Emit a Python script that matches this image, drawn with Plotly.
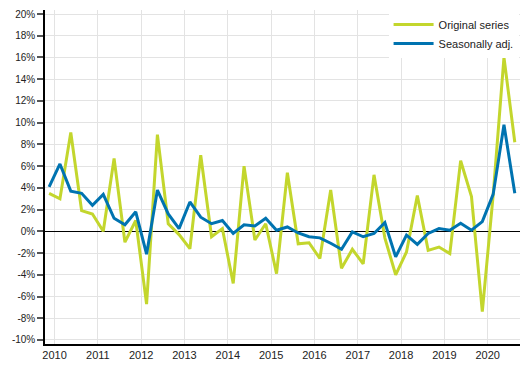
import plotly.graph_objects as go

# Quarters from 2009Q4 to 2020Q3 (positioned mid-quarter)
years = [2009] + [y for y in range(2010, 2020) for _ in range(4)] + [2020, 2020, 2020]
quarters = [4] + [q for _ in range(2010, 2020) for q in range(1, 5)] + [1, 2, 3]

original = [3.5, 3.0, 9.1, 1.9, 1.6, 0.0, 6.7, -1.0, 1.0, -6.7, 8.9,
            0.7, -0.3, -1.6, 7.0, -0.5, 0.25, -4.8, 6.0, -0.8, 0.7, -3.9,
            5.4, -1.15, -1.05, -2.5, 3.8, -3.4, -1.65, -3.0, 5.2, -0.6,
            -4.0, -1.9, 3.3, -1.75, -1.45, -2.05, 6.5, 3.2, -7.4, 3.3,
            16.0, 8.2]
seasonal = [4.1, 6.2, 3.7, 3.5, 2.4, 3.4, 1.2, 0.6, 1.8, -2.1, 3.8,
            1.6, 0.25, 2.7, 1.3, 0.7, 1.0, -0.2, 0.6, 0.5, 1.2, 0.1,
            0.4, -0.15, -0.5, -0.6, -1.1, -1.65, -0.05, -0.5, -0.2, 0.8,
            -2.35, -0.35, -1.2, -0.2, 0.25, 0.1, 0.75, 0.1, 0.9, 3.4,
            9.8, 3.5]

x = [y + (q - 0.5) / 4 for y, q in zip(years, quarters)]

year_ticks = list(range(2010, 2021))
y_ticks = list(range(-10, 21, 2))
y_tick_text = [f"{v}%" for v in y_ticks]

GREEN = "#c3d62d"
BLUE = "#0073b0"
FONT = "Liberation Sans, Arial, sans-serif"

fig = go.Figure()
fig.add_trace(go.Scatter(x=x, y=original, mode="lines", name="Original series",
                         line=dict(color=GREEN, width=3)))
fig.add_trace(go.Scatter(x=x, y=seasonal, mode="lines", name="Seasonally adj.",
                         line=dict(color=BLUE, width=3)))

# The page body has an 8px default margin, so the figure is sized to fit.
fig.update_layout(
    width=521, height=370,
    margin=dict(l=37, r=9, t=2, b=34, autoexpand=False),
    paper_bgcolor="white", plot_bgcolor="white",
    font=dict(family=FONT, size=11, color="#222"),
    showlegend=True,
    legend=dict(x=0.997, y=1.0, xanchor="right", yanchor="top",
                bgcolor="white", font=dict(size=11, color="#222"),
                tracegroupgap=0, itemwidth=40),
)
fig.update_xaxes(
    range=[2009.78, 2020.745], automargin=False,
    tickvals=year_ticks, ticktext=[str(v) for v in year_ticks],
    showgrid=True, gridcolor="#e3e3e3", gridwidth=1,
    showline=True, linecolor="black", linewidth=1.5,
    ticks="", zeroline=False,
    tickfont=dict(size=11, color="#222"),
)
fig.update_yaxes(
    range=[-10.37, 20.37], automargin=False,
    tickvals=y_ticks, ticktext=y_tick_text,
    showgrid=True, gridcolor="#e3e3e3", gridwidth=1,
    showline=True, linecolor="black", linewidth=1.5,
    ticks="outside", ticklen=6, tickcolor="#555", tickwidth=1.5,
    zeroline=True, zerolinecolor="black", zerolinewidth=1,
    tickfont=dict(size=10, color="#222"),
)

fig.write_html("out.html")
